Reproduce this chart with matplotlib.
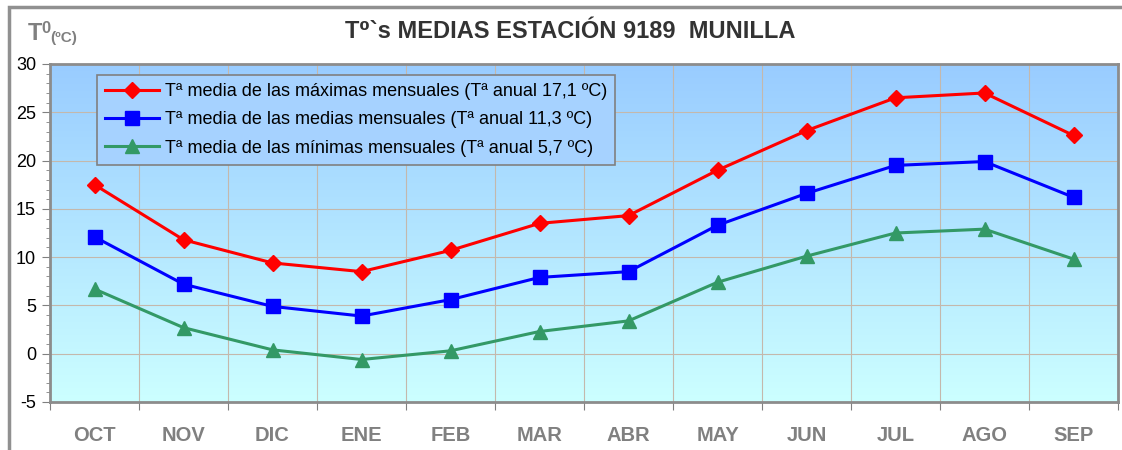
import matplotlib.pyplot as plt
import numpy as np
from matplotlib.colors import LinearSegmentedColormap
from matplotlib.patches import Rectangle

plt.rcParams['font.family'] = ['Liberation Sans', 'DejaVu Sans']
plt.rcParams['axes.unicode_minus'] = False

# Data
meses = ['OCT', 'NOV', 'DIC', 'ENE', 'FEB', 'MAR', 'ABR', 'MAY', 'JUN', 'JUL', 'AGO', 'SEP']
t_max = [17.5, 11.8, 9.4, 8.5, 10.7, 13.5, 14.3, 19.0, 23.1, 26.5, 27.0, 22.6]
t_med = [12.1, 7.2, 4.9, 3.9, 5.6, 7.9, 8.5, 13.3, 16.6, 19.5, 19.9, 16.2]
t_min = [6.7, 2.7, 0.4, -0.6, 0.3, 2.3, 3.4, 7.4, 10.1, 12.5, 12.9, 9.8]
etiquetas = ['Tª media de las máximas mensuales (Tª anual 17,1 ºC)',
             'Tª media de las medias mensuales (Tª anual 11,3 ºC)',
             'Tª media de las mínimas mensuales (Tª anual 5,7 ºC)']

fig = plt.figure(figsize=(11.22, 4.5), dpi=100)
ax = fig.add_axes([50 / 1122, 1 - 402 / 450, 1068 / 1122, 338 / 450])

# outer chart frame (cropped on right/bottom)
fig.patches.append(Rectangle((9 / 1122, -0.1), 1.2, 1 - 7 / 450 + 0.1, transform=fig.transFigure,
                             fill=False, edgecolor='#909090', linewidth=2.5, zorder=0))

x = np.arange(len(meses))
ax.set_xlim(-0.5, 11.5)
ax.set_ylim(-5, 30)

# gradient background
cmap = LinearSegmentedColormap.from_list('bg', ['#ccffff', '#99ccff'])
grad = np.linspace(0, 1, 256).reshape(-1, 1)
ax.imshow(grad, extent=[-0.5, 11.5, -5, 30], origin='lower', aspect='auto', cmap=cmap, zorder=0)

# grid
for gx in np.arange(-0.5, 12, 1):
    ax.axvline(gx, color='#c4b8ac', linewidth=0.8, zorder=1)
for gy in range(-5, 31, 5):
    ax.axhline(gy, color='#c4b8ac', linewidth=0.8, zorder=1)

ax.plot(x, t_max, color='#ff0000', lw=2.2, marker='D', ms=8.5, label=etiquetas[0], zorder=3)
ax.plot(x, t_med, color='#0000ff', lw=2.2, marker='s', ms=9.5, label=etiquetas[1], zorder=3)
ax.plot(x, t_min, color='#339966', lw=2.2, marker='^', ms=10, label=etiquetas[2], zorder=3)

for s in ax.spines.values():
    s.set_color('#8c8c8c')
    s.set_linewidth(2)

ax.set_xticks(np.arange(-0.5, 12, 1))
ax.set_xticklabels([])
ax.set_xticks(x, minor=True)
ax.set_xticklabels(meses, minor=True, fontsize=14.5, fontweight='bold', color='#808080')
ax.tick_params(axis='x', which='major', length=6, color='#808080', direction='out')
ax.tick_params(axis='x', which='minor', length=0, pad=17)

ax.set_yticks(range(-5, 31, 5))
ax.set_yticks(range(-5, 31, 1), minor=True)
ax.tick_params(axis='y', which='major', length=6, color='#808080', labelsize=13, pad=4)
ax.tick_params(axis='y', which='minor', length=3, color='#808080')

fig.text(570 / 1122, 1 - 31 / 450, 'T⁰`s MEDIAS ESTACIÓN 9189  MUNILLA', ha='center', va='center',
         fontsize=17, fontweight='bold', color='#333333')
fig.text(28 / 1122, 1 - 40 / 450, 'T', ha='left', va='baseline', fontsize=17, fontweight='bold',
         color='#808080')
fig.text(41 / 1122, 1 - 33 / 450, '0', ha='left', va='baseline', fontsize=12, fontweight='bold',
         color='#808080')
fig.text(50 / 1122, 1 - 42 / 450, '(ºC)', ha='left', va='baseline', fontsize=11, fontweight='bold',
         color='#808080')

leg = ax.legend(loc='upper left', bbox_to_anchor=(47 / 1068, 1 - 11 / 338), fontsize=13,
                frameon=True, fancybox=False, handlelength=3.0, handletextpad=0.3,
                labelspacing=0.62, borderpad=0.45, borderaxespad=0)
leg.get_frame().set_facecolor('#a6d2ff')
leg.get_frame().set_alpha(1)
leg.get_frame().set_edgecolor('#808080')
leg.get_frame().set_linewidth(1.2)

fig.savefig('out.png', dpi=100)
